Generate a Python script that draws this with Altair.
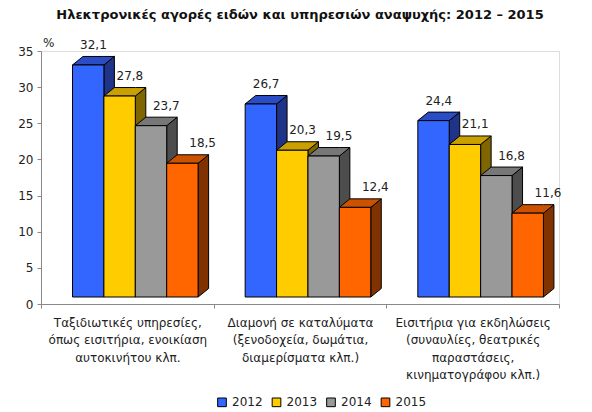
import json
import altair as alt
import pandas as pd

# --- data ---
categories = [
    ["Ταξιδιωτικές υπηρεσίες,", "όπως εισιτήρια, ενοικίαση", "αυτοκινήτου κλπ."],
    ["Διαμονή σε καταλύματα", "(ξενοδοχεία, δωμάτια,", "διαμερίσματα κλπ.)"],
    ["Εισιτήρια για εκδηλώσεις", "(συναυλίες, θεατρικές", "παραστάσεις,", "κινηματογράφου κλπ.)"],
]
years = ["2012", "2013", "2014", "2015"]
v2012 = [32.1, 26.7, 24.4]
v2013 = [27.8, 20.3, 21.1]
v2014 = [23.7, 19.5, 16.8]
v2015 = [18.5, 12.4, 11.6]
series = [v2012, v2013, v2014, v2015]

front_colors = ["#3366FF", "#FFCC00", "#999999", "#FF6600"]
top_colors = ["#2A4CC4", "#C9A000", "#777777", "#CC5200"]
side_colors = ["#1F3388", "#806600", "#4D4D4D", "#803300"]

FONT = "DejaVu Sans"
W, H = 518, 253
XMAX, YMAX = 3, 35
px_x = W / XMAX
px_y = H / YMAX
OFF = 31.5 / px_x    # gap from group start to first bar
BW = 31.4 / px_x     # bar width
DX = 10.5 / px_x     # 3d depth, horizontal
DY = 8.5 / px_y      # 3d depth, vertical
LIFT = 7 / px_y      # bars sit a little above the axis line
LABEL_SHIFT = 5 / px_x  # value labels drift right along each group

fronts, sides, tops = [], [], []
for k, (yr, vals) in enumerate(zip(years, series)):
    for g, v in enumerate(vals):
        bar = f"{g}-{yr}"
        x0 = g + OFF + k * BW
        x1 = x0 + BW
        y0, y1 = LIFT, LIFT + v
        fronts.append(dict(bar=bar, year=yr, x0=x0, x1=x1, y0=y0, y1=y1,
                           lx=x0 + (BW + DX) / 2 + k * LABEL_SHIFT, ly=y1 + DY,
                           label=f"{v:.1f}".replace(".", ",")))
        sides += [dict(bar=bar, year=yr, ax=x1, lo=y0, hi=y1),
                  dict(bar=bar, year=yr, ax=x1 + DX, lo=y0 + DY, hi=y1 + DY)]
        tops += [dict(bar=bar, year=yr, ax=x0, lo=y1, hi=y1),
                 dict(bar=bar, year=yr, ax=x0 + DX, lo=y1, hi=y1 + DY),
                 dict(bar=bar, year=yr, ax=x1, lo=y1, hi=y1 + DY),
                 dict(bar=bar, year=yr, ax=x1 + DX, lo=y1 + DY, hi=y1 + DY)]

front_df = pd.DataFrame(fronts)
side_df = pd.DataFrame(sides)
top_df = pd.DataFrame(tops)

label_expr = (f"datum.value % 1 == 0.5 ? {json.dumps(categories, ensure_ascii=False)}"
              f"[floor(datum.value)] : ''")

x_scale = alt.Scale(domain=[0, XMAX], nice=False, zero=False)
y_scale = alt.Scale(domain=[0, YMAX], nice=False)
x_axis = alt.Axis(
    values=[0, 0.5, 1, 1.5, 2, 2.5, 3], labelExpr=label_expr, title=None,
    grid=False, domainColor="#888888", tickColor={"condition": {"test": "datum.value % 1 != 0", "value": "transparent"}, "value": "#888888"},
    tickSize=4, labelPadding=9, labelLineHeight=17.5, labelFont=FONT, labelFontSize=12,
    labelColor="#222222", labelOverlap=False, labelFlush=False, labelBound=False,
    labelBaseline="top",
)
y_axis = alt.Axis(
    values=list(range(0, 36, 5)), title="%", titleAngle=0, titleX=1.5, titleY=-5,
    titleAlign="left", titleBaseline="alphabetic", titleFont=FONT, titleFontSize=12,
    titleFontWeight="normal", titleColor="#222222", grid=False,
    domainColor="#888888", tickColor="#888888", tickSize=4, labelPadding=4,
    labelFont=FONT, labelFontSize=12, labelColor="#222222",
)


def xq(field):
    return alt.X(f"{field}:Q", scale=x_scale, axis=x_axis)


def yq(field):
    return alt.Y(f"{field}:Q", scale=y_scale, axis=y_axis)


def face_color(colors, legend=None):
    return alt.Color("year:N", scale=alt.Scale(domain=years, range=colors), legend=legend)


side = alt.Chart(side_df).mark_area(stroke="black", strokeWidth=1, opacity=1).encode(
    x=xq("ax"), y=yq("hi"), y2="lo", color=face_color(side_colors), detail="bar:N",
)
top = alt.Chart(top_df).mark_area(stroke="black", strokeWidth=1, opacity=1).encode(
    x=xq("ax"), y=yq("hi"), y2="lo", color=face_color(top_colors), detail="bar:N",
)
legend = alt.Legend(
    title=None, orient="none", legendX=175, legendY=345, direction="horizontal",
    symbolType="square", symbolSize=75, symbolStrokeColor="black", symbolStrokeWidth=1,
    labelFont=FONT, labelFontSize=12, labelColor="#222222", labelOffset=4,
    columnPadding=6.5,
)
front = alt.Chart(front_df).mark_rect(stroke="black", strokeWidth=1).encode(
    x=xq("x0"), x2="x1", y=yq("y0"), y2="y1", color=face_color(front_colors, legend),
)
labels = alt.Chart(front_df).mark_text(
    font=FONT, fontSize=12, color="#222222", baseline="alphabetic", dy=-7.5
).encode(x=xq("lx"), y=yq("ly"), text="label:N")

chart = alt.layer(side, top, front, labels).resolve_scale(color="independent").properties(
    width=W, height=H,
    autosize=alt.AutoSizeParams(type="none"),
    padding={"left": 33, "top": 43, "right": 25, "bottom": 106},
    title=alt.TitleParams(
        "Ηλεκτρονικές αγορές ειδών και υπηρεσιών αναψυχής: 2012 – 2015",
        font=FONT, fontSize=13, fontWeight="bold", color="#111111",
        anchor="middle", offset=14,
    ),
).configure_view(stroke=None).configure(background="white")

chart.save("out.html", embed_options={"renderer": "svg", "actions": False})
